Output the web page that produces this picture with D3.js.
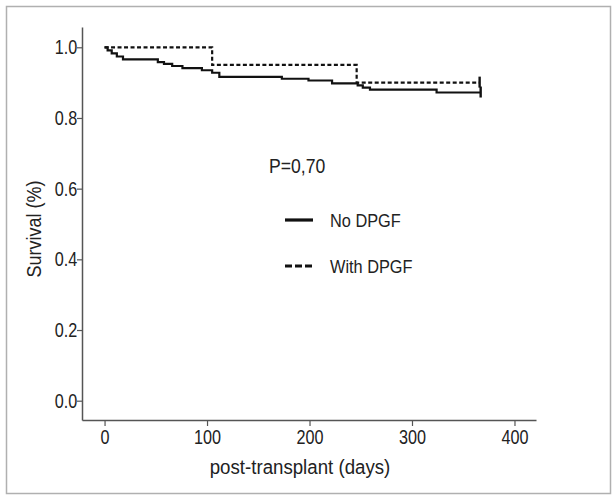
<!DOCTYPE html>
<html>
<head>
<meta charset="utf-8">
<script src="https://cdn.jsdelivr.net/npm/d3@7"></script>
<style>
  body { margin: 0; background: #fff; }
  text { font-family: "Liberation Sans", Arial, sans-serif; fill: #222; }
</style>
</head>
<body>
<script>
// survival data (days, survival fraction)
var noDpgfDays   = [0, 3, 7, 12, 18, 52, 58, 66, 76, 95, 105, 112, 173, 199, 222, 247, 252, 259, 324];
var noDpgfSurv   = [1, 0.991, 0.983, 0.974, 0.966, 0.958, 0.953, 0.947, 0.941, 0.935, 0.928, 0.916, 0.911, 0.906, 0.898, 0.892, 0.886, 0.880, 0.872];
var noDpgfEnd    = 367;

var withDpgfDays = [0, 105, 246];
var withDpgfSurv = [1, 0.95, 0.90];
var withDpgfEnd  = 366;

var xTicks = [0, 100, 200, 300, 400];
var yTicks = [0, 0.2, 0.4, 0.6, 0.8, 1.0];
var legendLabels = ["No DPGF", "With DPGF"];
var pLabel = "P=0,70";

var width = 613, height = 496;

var svg = d3.select("body").append("svg")
  .attr("width", width)
  .attr("height", height);

// grey frame round the whole figure
svg.append("rect")
  .attr("x", 6.5).attr("y", 6.5)
  .attr("width", 604).attr("height", 487)
  .attr("fill", "none")
  .attr("stroke", "#b0b0b0")
  .attr("stroke-width", 1.5);

// scales: axis lines run from x 82..536 and y 27..420
var x = d3.scaleLinear().domain([-22, 421]).range([82, 536]);
var y = d3.scaleLinear().domain([-0.0546, 1.0574]).range([420, 27]);

var xAxis = d3.axisBottom(x).tickValues(xTicks).tickSize(6).tickSizeOuter(0).tickPadding(4);
var yAxis = d3.axisLeft(y).tickValues(yTicks).tickSize(5).tickSizeOuter(0).tickPadding(1)
  .tickFormat(d3.format(".1f"));

var gx = svg.append("g")
  .attr("transform", "translate(0," + 420 + ")")
  .call(xAxis);
var gy = svg.append("g")
  .attr("transform", "translate(" + 82 + ",0)")
  .call(yAxis);

// the original uses a condensed face, fake it with a horizontal scale
[gx, gy].forEach(function(g) {
  g.select(".domain").attr("stroke", "#555").attr("stroke-width", 1.5);
  g.selectAll(".tick line").attr("stroke", "#555").attr("stroke-width", 1.2);
  g.selectAll(".tick text")
    .style("font-size", "20px")
    .attr("fill", "#222")
    .attr("transform", "scale(0.81,1)");
});

// helper for free-standing labels
function label(px, py, txt, size, squeeze, anchor, rot) {
  return svg.append("text")
    .attr("transform", "translate(" + px + "," + py + ")" + (rot ? " rotate(" + rot + ")" : "") + " scale(" + squeeze + ",1)")
    .attr("text-anchor", anchor || "start")
    .style("font-size", size + "px")
    .text(txt);
}

// axis titles
label(300, 474, "post-transplant (days)", 21, 0.89, "middle");
label(41, 229, "Survival (%)", 20, 0.9, "middle", -90);

// step curves
function toPoints(days, surv, end) {
  var pts = days.map(function(d, i) { return [d, surv[i]]; });
  pts.push([end, surv[surv.length - 1]]);
  return pts;
}

var line = d3.line()
  .x(function(d) { return x(d[0]); })
  .y(function(d) { return y(d[1]); })
  .curve(d3.curveStepAfter);

var noPts = toPoints(noDpgfDays, noDpgfSurv, noDpgfEnd);
var withPts = toPoints(withDpgfDays, withDpgfSurv, withDpgfEnd);

svg.append("path")
  .attr("d", line(withPts))
  .attr("fill", "none")
  .attr("stroke", "#111")
  .attr("stroke-width", 2.2)
  .attr("stroke-dasharray", "4,2.5");

svg.append("path")
  .attr("d", line(noPts))
  .attr("fill", "none")
  .attr("stroke", "#111")
  .attr("stroke-width", 2.2);

// censor ticks at the end of each curve
[[noDpgfEnd, noDpgfSurv[noDpgfSurv.length - 1]], [withDpgfEnd, withDpgfSurv[withDpgfSurv.length - 1]]]
  .forEach(function(c) {
    svg.append("line")
      .attr("x1", x(c[0])).attr("x2", x(c[0]))
      .attr("y1", y(c[1]) - 6).attr("y2", y(c[1]) + 5)
      .attr("stroke", "#111").attr("stroke-width", 2.4);
  });

// p value and legend
label(269, 173, pLabel, 20, 0.88);

legendLabels.forEach(function(lab, i) {
  var ly = 220 + i * 46;
  svg.append("line")
    .attr("x1", 285).attr("x2", 313)
    .attr("y1", ly).attr("y2", ly)
    .attr("stroke", "#111")
    .attr("stroke-width", 3.2)
    .attr("stroke-dasharray", i === 1 ? "7,3" : null);
  label(330, ly + 7, lab, 19, 0.86);
});
</script>
</body>
</html>
